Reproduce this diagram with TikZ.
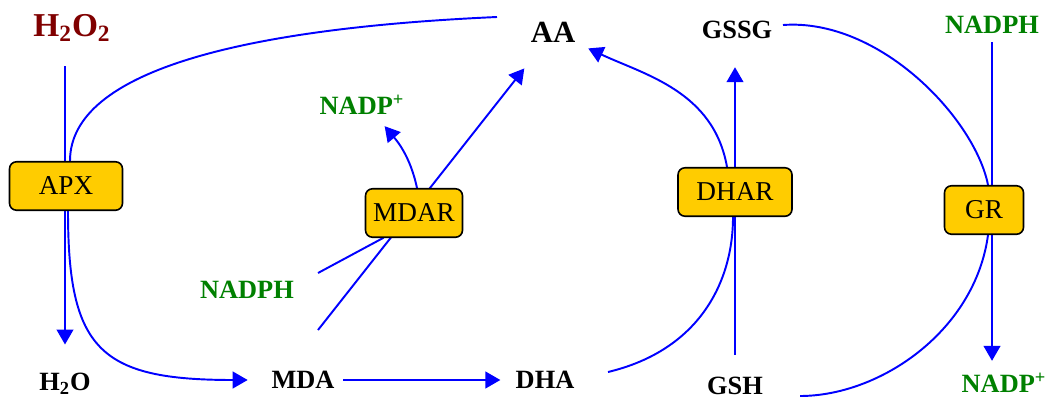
\documentclass[tikz,border=0pt]{standalone}
\usepackage{fontspec}
\setmainfont{Liberation Serif}
\usepackage{tikz}
\usetikzlibrary{arrows.meta, calc}
\definecolor{rxnblue}{RGB}{0,0,255}
\definecolor{leafgreen}{RGB}{0,128,0}
\definecolor{peroxred}{RGB}{128,0,0}
\definecolor{enzyellow}{RGB}{255,204,0}
\pgfdeclarelayer{bg}
\pgfsetlayers{bg,main}

\begin{document}
\begin{tikzpicture}
      \tikzset{ chem/.style ={inner sep=0pt, text=black, font=\bfseries\fontsize{15}{18}\selectfont} }
      \tikzset{ cofac/.style={chem, text=leafgreen} }
      \tikzset{ enz/.style  ={draw=black, line width=0.9pt, fill=enzyellow, rounded corners=4pt, inner sep=0pt, minimum height=0.97cm, font=\fontsize{15.5}{18}\selectfont} }
      \tikzset{ rxn/.style  ={draw=rxnblue, line width=1.1pt, >={Triangle[length=8.5pt,width=9.5pt]}} }

      \useasboundingbox (0,0) rectangle (20.96,7.96);

      \node[chem, text=peroxred, font=\bfseries\fontsize{19}{22}\selectfont] (h2o2) at ( 1.44, 7.41) {H\textsubscript{2}O\textsubscript{2}};
      \node[chem, font=\bfseries\fontsize{17.5}{20}\selectfont]             (aa)   at (11.06, 7.32) {AA};
      \node[chem ] (gssg)   at (14.74, 7.36) {GSSG};
      \node[cofac] (nadphr) at (19.84, 7.46) {NADPH};
      \node[cofac] (nadpm)  at ( 7.24, 5.87) {NADP\textsuperscript{+}};
      \node[cofac] (nadphm) at ( 4.94, 2.16) {NADPH};

      \node[chem ] (h2o)    at ( 1.30, 0.28) {H\textsubscript{2}O};
      \node[chem ] (mda)    at ( 6.06, 0.36) {MDA};
      \node[chem ] (dha)    at (10.90, 0.36) {DHA};
      \node[chem ] (gsh)    at (14.70, 0.24) {GSH};
      \node[cofac] (nadpr)  at (20.08, 0.30) {NADP\textsuperscript{+}};

      \node[enz, minimum width=2.26cm] (apx)  at ( 1.32, 4.24) {APX};
      \node[enz, minimum width=1.94cm] (mdar) at ( 8.28, 3.70) {MDAR};
      \node[enz, minimum width=2.28cm] (dhar) at (14.70, 4.12) {DHAR};
      \node[enz, minimum width=1.58cm] (gr)   at (19.68, 3.76) {GR};

      \coordinate (aain)     at ( 9.94, 7.62);
      \coordinate (mdain)    at ( 6.36, 1.36);
      \coordinate (nadphout) at ( 6.36, 2.50);
      \coordinate (dhaout)   at (12.16, 0.52);
      \coordinate (gssgout)  at (15.66, 7.46);
      \coordinate (gshin)    at (16.00, 0.04);

      \begin{pgfonlayer}{bg}
      % APX
      \draw[rxn, ->, shorten <=0.5cm, shorten >=0.57cm] (h2o2.south -| h2o) -- (h2o);
      \draw[rxn, ->, shorten >=0.47cm] (aain) .. controls +(-4.94,-0.22) and +(0,1.84) .. ([xshift=0.08cm]apx.north)
            -- ([xshift=0.04cm]apx.south) .. controls +(0,-2.78) and +(-3.42,0) .. (mda.west);

      % MDAR
      \draw[rxn, ->, shorten <=0.17cm, shorten >=0.3cm] (mda) -- (dha);
      \draw[rxn, ->, shorten >=0.66cm] (mdain) -- (aa);
      \draw[rxn, ->, shorten >=0.3cm] (nadphout) -- ([xshift=-0.62cm]mdar.south)
            -- ([xshift=0.06cm]mdar.north) to[out=102,in=-50] ([xshift=0.26cm]nadpm.south);

      % DHAR
      \draw[rxn, ->, shorten >=0.28cm] (dhaout) .. controls +(1.84,0.44) and +(0,-1.28) .. ([xshift=-0.04cm]dhar.south)
            -- ([xshift=-0.16cm]dhar.north) to[out=100,in=-25] (aa.south east);
      \draw[rxn, ->, shorten <=0.44cm, shorten >=0.56cm] (gsh) -- (gsh |- gssg.south);

      % GR
      \draw[rxn] (gssgout) .. controls +(1.94,0.14) and +(-0.26,1.32) .. ([xshift=0.08cm]gr.north)
            -- ([xshift=0.08cm]gr.south) .. controls +(-0.26,-1.92) and +(1.6,0) .. (gshin);
      \draw[rxn, ->, shorten <=0.16cm, shorten >=0.24cm] (nadphr) -- (nadphr |- nadpr.north);
      \end{pgfonlayer}
\end{tikzpicture}
\end{document}
